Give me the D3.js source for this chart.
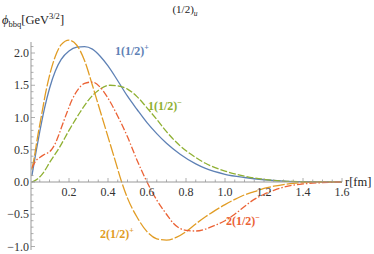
<!DOCTYPE html>
<html>
<head>
<meta charset="utf-8">
<script src="https://cdn.jsdelivr.net/npm/d3@7"></script>
<style>
  body { margin: 0; background: #fff; }
  svg { display: block; font-family: "Liberation Serif", "DejaVu Serif", serif; }
</style>
</head>
<body>
<div id="chart"></div>
<script>
// radial wave functions, r in fm
var r1p = [0.01, 0.03, 0.05, 0.075, 0.1, 0.13, 0.16, 0.2, 0.24, 0.28, 0.32, 0.36, 0.4, 0.45, 0.5, 0.55, 0.6, 0.65, 0.7, 0.77, 0.85, 0.9, 1.0, 1.1, 1.2, 1.3, 1.4, 1.6];
var phi1p = [0.1, 0.45, 0.78, 1.15, 1.45, 1.72, 1.9, 2.03, 2.09, 2.1, 2.06, 1.95, 1.8, 1.57, 1.33, 1.12, 0.92, 0.75, 0.6, 0.43, 0.28, 0.21, 0.12, 0.07, 0.035, 0.015, 0.005, 0];

var r1m = [0.01, 0.04, 0.07, 0.1, 0.15, 0.2, 0.25, 0.3, 0.35, 0.41, 0.45, 0.5, 0.55, 0.6, 0.65, 0.7, 0.77, 0.85, 0.9, 1.0, 1.1, 1.2, 1.3, 1.4, 1.5, 1.6];
var phi1m = [0.0, 0.05, 0.15, 0.3, 0.53, 0.8, 1.05, 1.27, 1.42, 1.5, 1.49, 1.44, 1.32, 1.15, 0.97, 0.78, 0.56, 0.38, 0.29, 0.17, 0.09, 0.04, 0.015, 0.005, 0, 0];

var r2p = [0.01, 0.02, 0.04, 0.06, 0.08, 0.1, 0.13, 0.16, 0.2, 0.24, 0.28, 0.32, 0.36, 0.4, 0.44, 0.47, 0.5, 0.55, 0.6, 0.65, 0.7, 0.75, 0.8, 0.85, 0.9, 0.95, 1.0, 1.05, 1.1, 1.15, 1.2, 1.25, 1.3, 1.35, 1.4, 1.5, 1.6];
var phi2p = [0.2, 0.35, 0.72, 1.05, 1.38, 1.65, 1.95, 2.13, 2.2, 2.12, 1.88, 1.5, 1.1, 0.7, 0.3, 0.0, -0.25, -0.55, -0.77, -0.88, -0.9, -0.86, -0.77, -0.65, -0.54, -0.44, -0.35, -0.27, -0.2, -0.15, -0.1, -0.065, -0.04, -0.02, -0.01, 0, 0];

var r2m = [0.01, 0.03, 0.05, 0.07, 0.09, 0.11, 0.13, 0.15, 0.17, 0.19, 0.215, 0.25, 0.28, 0.32, 0.36, 0.4, 0.45, 0.5, 0.55, 0.6, 0.65, 0.7, 0.735, 0.8, 0.85, 0.9, 0.95, 1.0, 1.05, 1.1, 1.13, 1.2, 1.25, 1.3, 1.4, 1.5, 1.6];
var phi2m = [0.22, 0.33, 0.38, 0.42, 0.45, 0.5, 0.6, 0.75, 0.92, 1.08, 1.27, 1.45, 1.53, 1.55, 1.47, 1.3, 1.02, 0.7, 0.33, 0.0, -0.28, -0.5, -0.64, -0.75, -0.76, -0.73, -0.67, -0.6, -0.5, -0.38, -0.31, -0.19, -0.13, -0.08, -0.03, -0.01, 0];

var xTicks = [0.2, 0.4, 0.6, 0.8, 1.0, 1.2, 1.4, 1.6];
var yTicks = [-1.0, -0.5, 0.0, 0.5, 1.0, 1.5, 2.0];

var series = [
  { name: "1(1/2)", sup: "+", r: r1p, v: phi1p, color: "#5E81B5", dash: null, lx: 115, ly: 55 },
  { name: "1(1/2)", sup: "\u2212", r: r1m, v: phi1m, color: "#8FB032", dash: "7,2", lx: 148, ly: 110 },
  { name: "2(1/2)", sup: "+", r: r2p, v: phi2p, color: "#E19C24", dash: "12,2", lx: 100, ly: 238 },
  { name: "2(1/2)", sup: "\u2212", r: r2m, v: phi2m, color: "#EB6235", dash: "7,2,1.5,2", lx: 226, ly: 225 }
];

var W = 374, H = 254;
var svg = d3.select('#chart').append('svg')
  .attr('width', W)
  .attr('height', H);

var x = d3.scaleLinear().domain([0, 1.6]).range([30, 342]);
var y = d3.scaleLinear().domain([-1, 2]).range([246.5, 53]);
var x0 = 31;           // where Mathematica put the vertical axis
var axisCol = "#999";

// curves first, axes drawn on top like the original
var line = d3.line()
  .x(function(d) { return x(d[0]); })
  .y(function(d) { return y(d[1]); })
  .curve(d3.curveMonotoneX);

svg.append('defs').append('clipPath').attr('id', 'clip')
  .append('rect').attr('x', x0).attr('y', 38).attr('width', 320).attr('height', 215);

var curves = svg.append('g').attr('clip-path', 'url(#clip)');
series.forEach(function(s) {
  var pts = s.r.map(function(r, i) { return [r, s.v[i]]; });
  curves.append('path')
    .datum(pts)
    .attr('d', line)
    .attr('fill', 'none')
    .attr('stroke', s.color)
    .attr('stroke-width', 1.3)
    .attr('stroke-dasharray', s.dash);
});

// x axis
var gx = svg.append('g');
gx.append('line')
  .attr('x1', x0).attr('x2', x(1.6))
  .attr('y1', y(0)).attr('y2', y(0))
  .attr('stroke', axisCol).attr('stroke-width', 1);
var xMinor = d3.range(1, 33).map(function(i) { return i * 0.05; });
gx.selectAll('.xt')
  .data(xMinor)
  .enter().append('line')
  .attr('x1', function(d) { return x(d); })
  .attr('x2', function(d) { return x(d); })
  .attr('y1', y(0))
  .attr('y2', function(d, i) { return (i + 1) % 4 == 0 ? y(0) - 4 : y(0) - 2.5; })
  .attr('stroke', axisCol).attr('stroke-width', 0.8);
gx.selectAll('.xl')
  .data(xTicks)
  .enter().append('text')
  .attr('x', function(d) { return x(d); })
  .attr('y', y(0) + 14)
  .attr('text-anchor', 'middle')
  .attr('font-size', '12px')
  .attr('fill', '#333')
  .text(function(d) { return d.toFixed(1); });

// y axis
var gy = svg.append('g');
gy.append('line')
  .attr('x1', x0).attr('x2', x0)
  .attr('y1', 42).attr('y2', 250)
  .attr('stroke', axisCol).attr('stroke-width', 1);
var yMinor = d3.range(-10, 22).map(function(i) { return i / 10; });
gy.selectAll('.yt')
  .data(yMinor)
  .enter().append('line')
  .attr('x1', x0)
  .attr('x2', function(d) { return Math.abs(Math.round(d * 10)) % 5 == 0 ? x0 + 4 : x0 + 2.5; })
  .attr('y1', function(d) { return y(d); })
  .attr('y2', function(d) { return y(d); })
  .attr('stroke', axisCol).attr('stroke-width', 0.8);
gy.selectAll('.yl')
  .data(yTicks)
  .enter().append('text')
  .attr('x', x0 - 2)
  .attr('y', function(d) { return y(d) + 4; })
  .attr('text-anchor', 'end')
  .attr('font-size', '12px')
  .attr('fill', '#333')
  .text(function(d) { return d.toFixed(1).replace('-', '\u2212'); });

// axis labels and title
var yl = svg.append('text').attr('x', 2).attr('y', 24).attr('font-size', '12.5px').attr('fill', '#222');
yl.append('tspan').attr('font-style', 'italic').text('\u03d5');
yl.append('tspan').attr('font-size', '8.5px').attr('dy', 3).text('bbq');
yl.append('tspan').attr('dy', -3).text('[GeV');
yl.append('tspan').attr('font-size', '8.5px').attr('dy', -5).text('3/2');
yl.append('tspan').attr('dy', 5).text(']');

svg.append('text')
  .attr('x', 345).attr('y', 186)
  .attr('font-size', '12.5px').attr('fill', '#222')
  .text('r[fm]');

var tt = svg.append('text').attr('x', 185).attr('y', 13).attr('text-anchor', 'middle')
  .attr('font-size', '11px').attr('fill', '#222');
tt.append('tspan').text('(1/2)');
tt.append('tspan').attr('font-size', '7.5px').attr('font-style', 'italic').attr('dy', 3).text('u');

// curve labels
series.forEach(function(s) {
  var t = svg.append('text')
    .attr('x', s.lx).attr('y', s.ly)
    .attr('font-size', '12px').attr('font-weight', 'bold')
    .attr('fill', s.color);
  t.append('tspan').text(s.name);
  t.append('tspan').attr('font-size', '8px').attr('dy', -5).text(s.sup);
});
</script>
</body>
</html>
